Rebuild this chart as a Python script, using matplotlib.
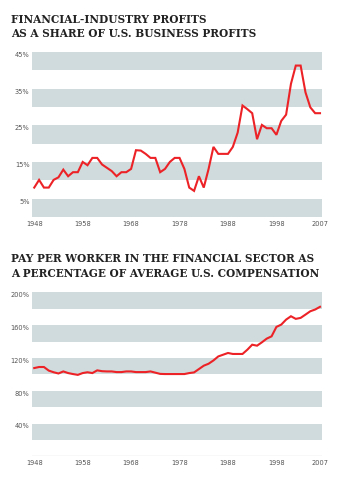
import matplotlib.pyplot as plt

# data
years = list(range(1948, 2008))

profit_share = [8.0, 10.1, 8.0, 8.0, 10.1, 10.8, 12.9, 11.1, 12.2, 12.2,
                15.0, 14.1, 16.1, 16.1, 14.3, 13.4, 12.5, 11.1, 12.2, 12.2,
                13.1, 18.2, 18.1, 17.2, 16.1, 16.1, 12.2, 13.1, 15.0, 16.1,
                16.1, 13.1, 8.0, 7.1, 11.1, 8.0, 13.1, 19.1, 17.2, 17.2,
                17.2, 19.1, 23.0, 30.4, 29.4, 28.3, 21.2, 25.1, 24.2, 24.2,
                22.4, 26.2, 27.9, 36.3, 41.3, 41.3, 34.0, 29.9, 28.3, 28.3]

pay_ratio = [107.6, 108.9, 108.9, 104.5, 102.5, 101.0, 103.5, 101.5, 100.3, 99.3,
             101.5, 102.5, 101.5, 104.8, 103.8, 103.5, 103.5, 102.7, 102.7, 103.5,
             103.5, 102.7, 102.7, 102.7, 103.5, 102.0, 100.5, 100.3, 100.3, 100.3,
             100.3, 100.3, 101.5, 102.3, 106.4, 110.5, 112.9, 116.9, 121.8, 123.9,
             126.0, 124.8, 124.8, 124.8, 130.0, 136.1, 134.9, 139.0, 143.5, 146.3,
             157.8, 160.6, 166.7, 170.8, 167.6, 168.8, 172.8, 176.9, 179.0, 182.3]

xticks = [1948, 1958, 1968, 1978, 1988, 1998, 2007]
top_ticks = [5, 15, 25, 35, 45]
bottom_ticks = [40, 80, 120, 160, 200]

title1 = ["FINANCIAL-INDUSTRY PROFITS", "AS A SHARE OF U.S. BUSINESS PROFITS"]
title2 = ["PAY PER WORKER IN THE FINANCIAL SECTOR AS",
          "A PERCENTAGE OF AVERAGE U.S. COMPENSATION"]

band = '#cfdbdc'
red = '#ec2227'
W, H = 338, 478

fig = plt.figure(figsize=(W / 100, H / 100), dpi=100)


def panel(top, bottom, ticks, values, axis_line):
    ax = fig.add_axes([32.3 / W, 1 - bottom / H, (321.7 - 32.3) / W, (bottom - top) / H])
    step = ticks[1] - ticks[0]
    # shaded band under each labelled gridline, half a step tall
    for t in ticks:
        ax.axhspan(t - step / 2, t, color=band, lw=0, zorder=0)
    ax.plot(years, values, color=red, lw=1.5, solid_joinstyle='miter', zorder=3)
    ax.set_xlim(1947.6, 2007.35)
    ax.set_ylim(0, ticks[-1])
    for s in ax.spines.values():
        s.set_visible(False)
    if axis_line:
        ax.axhline(0, color='#8a8a8a', lw=0.8, zorder=2)
    ax.set_xticks(xticks)
    ax.set_xticklabels([str(y) for y in xticks])
    ax.set_yticks(ticks)
    ax.set_yticklabels([f"{t}%" for t in ticks], va='top')
    ax.tick_params(axis='both', length=0, labelsize=4.8, labelcolor='#555555')
    ax.tick_params(axis='x', pad=3)
    ax.tick_params(axis='y', pad=2)
    return ax


panel(52, 216.9, top_ticks, profit_share, False)
panel(292.3, 456.3, bottom_ticks, pay_ratio, True)

tfont = dict(family='DejaVu Serif', weight='bold', fontsize=7.6, color='#222222')
fig.text(11 / W, 1 - 22.7 / H, title1[0], **tfont)
fig.text(11 / W, 1 - 37 / H, title1[1], **tfont)
fig.text(11 / W, 1 - 262.3 / H, title2[0], **tfont)
fig.text(11 / W, 1 - 276.7 / H, title2[1], **tfont)

fig.savefig('out.png', dpi=100, facecolor='white')
